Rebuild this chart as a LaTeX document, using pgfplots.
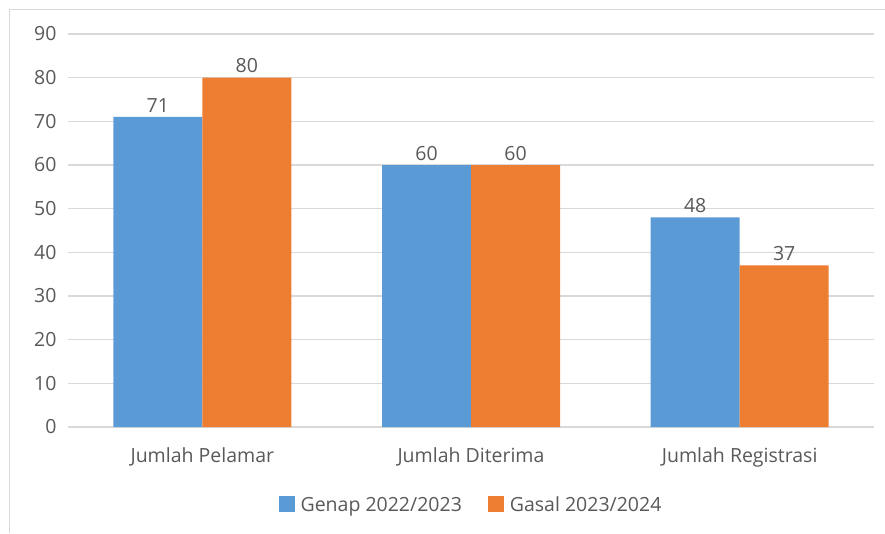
\documentclass[border=0pt]{standalone}
\usepackage{pgfplots}
\pgfplotsset{compat=1.18}
\usepackage{fontspec}
\setmainfont{Open Sans}
\definecolor{genap}{HTML}{5B9BD5}
\definecolor{gasal}{HTML}{ED7D31}
\definecolor{txt}{HTML}{595959}
\definecolor{gridc}{HTML}{D9D9D9}
\begin{document}
\begin{tikzpicture}
\useasboundingbox (-68pt,-106pt) rectangle (817pt,427pt);
\draw[gridc, line width=1pt] (-58pt,-106pt) -- (-58pt,417pt) -- (817pt,417pt);
\begin{axis}[
    scale only axis,
    width=806pt, height=393pt,
    ybar=0pt, bar width=89pt,
    xmin=-0.5, xmax=2.5,
    ymin=0, ymax=90,
    ytick={0,10,...,90},
    xtick=data,
    xticklabels={Jumlah Pelamar, Jumlah Diterima, Jumlah Registrasi},
    axis line style={draw=none},
    major tick length=0pt,
    xtick style={draw=none}, ytick style={draw=none},
    xmajorgrids=false,
    ymajorgrids=true,
    grid style={gridc, line width=1.2pt},
    tick label style={font=\fontsize{19.5}{23}\selectfont, text=txt},
    /pgf/number format/assume math mode=true,
    yticklabel style={xshift=-8pt},
    xticklabel style={yshift=-17pt},
    nodes near coords,
    every node near coord/.append style={font=\fontsize{19.5}{23}\selectfont, text=txt, yshift=1pt},
    legend columns=2,
    legend style={draw=none, at={(axis description cs:0.5,0)}, yshift=-78pt, anchor=center,
        font=\fontsize{19.5}{23}\selectfont, text=txt,
        /tikz/every odd column/.append style={column sep=4pt},
        /tikz/every even column/.append style={column sep=24pt}},
    legend image code/.code={\fill[#1] (0pt,-7pt) rectangle (16pt,9pt);},
]
\addplot[draw=none, fill=genap] coordinates {(0,71) (1,60) (2,48)};
\addplot[draw=none, fill=gasal] coordinates {(0,80) (1,60) (2,37)};
\legend{Genap 2022/2023, Gasal 2023/2024}
\end{axis}
\end{tikzpicture}
\end{document}
